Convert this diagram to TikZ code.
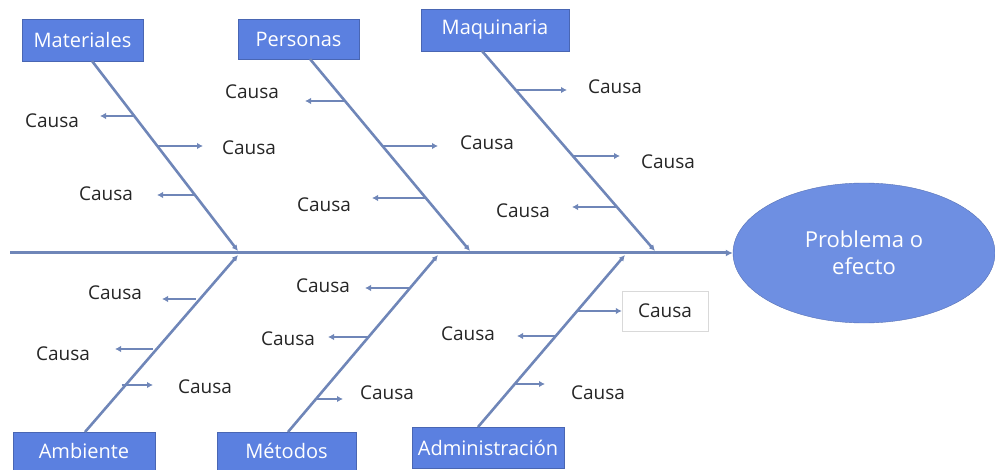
\documentclass[tikz,border=0pt]{standalone}
\usepackage{fontspec}
\setmainfont{Open Sans}
\usetikzlibrary{arrows.meta,shapes.geometric}
\definecolor{boneBlue}{HTML}{6F86B8}
\definecolor{catBlue}{HTML}{5B80E0}
\definecolor{effBlue}{HTML}{6E8FE2}

\tikzset{
  category/.style={draw=catBlue!80!black, fill=catBlue, text=white, inner sep=0pt,
    font=\fontsize{20}{24}\selectfont},
  cause/.style={text=black!85, font=\fontsize{19}{23}\selectfont},
  bone/.style={boneBlue, line width=2.6pt, -{Latex[length=6pt,width=6pt]}},
  twig/.style={boneBlue, line width=2.3pt, -{Latex[length=6pt,width=6.5pt]}}
}

\begin{document}
\begin{tikzpicture}[x=1pt,y=-1pt]
                \useasboundingbox (0,0) rectangle (995,470);

                % effect and categories
                \node[ellipse, fill=effBlue, draw=effBlue!80!black, minimum width=262, minimum height=140, inner sep=0pt,
                      text=white, align=center, font=\fontsize{22}{27}\selectfont] (eff) at (864,253) {Problema o\\efecto};
                \node[category, minimum width=121, minimum height=42] (mat) at (82.5,40) {Materiales};
                \node[category, minimum width=121, minimum height=40] (per) at (298.5,39) {Personas};
                \node[category, minimum width=148, minimum height=42] (maq) at (495,30) {Maquinaria};
                \node[category, minimum width=142, minimum height=38] (amb) at (84,451) {Ambiente};
                \node[category, minimum width=139, minimum height=38] (met) at (286.5,451) {Métodos};
                \node[category, minimum width=152, minimum height=41] (adm) at (488,447.5) {Administración};

                % spine
                \coordinate (spL) at (10,253);
                \draw[boneBlue, line width=3pt, -{Latex[length=7pt,width=7pt]}] (spL) -- (eff.west);

                % bones
                \coordinate (matT) at (92,61);   \coordinate (matB) at (238,251);
                \coordinate (perT) at (310,59);  \coordinate (perB) at (470,251);
                \coordinate (maqT) at (482,51);  \coordinate (maqB) at (655,251);
                \coordinate (ambT) at (85,432);  \coordinate (ambB) at (238,255);
                \coordinate (metT) at (288,432); \coordinate (metB) at (438,255);
                \coordinate (admT) at (478,427); \coordinate (admB) at (625,255);
                \draw[bone] (matT) -- (matB);
                \draw[bone] (perT) -- (perB);
                \draw[bone] (maqT) -- (maqB);
                \draw[bone] (ambT) -- (ambB);
                \draw[bone] (metT) -- (metB);
                \draw[bone] (admT) -- (admB);

                % causes - Materiales
                \node[cause] (m1) at (52,121) {Causa};
                \node[cause] (m2) at (249,148) {Causa};
                \node[cause] (m3) at (106,194) {Causa};
                \draw[twig] (134.5,116) coordinate (m1s) -- (100,116) coordinate (m1e);
                \draw[twig] (158,146) coordinate (m2s) -- (203,146) coordinate (m2e);
                \draw[twig] (195.5,195) coordinate (m3s) -- (157,195) coordinate (m3e);

                % causes - Personas
                \node[cause] (p1) at (252,92) {Causa};
                \node[cause] (p2) at (487,143) {Causa};
                \node[cause] (p3) at (324,205) {Causa};
                \draw[twig] (345,101) coordinate (p1s) -- (305,101) coordinate (p1e);
                \draw[twig] (383,146) coordinate (p2s) -- (438,146) coordinate (p2e);
                \draw[twig] (426,198) coordinate (p3s) -- (372,198) coordinate (p3e);

                % causes - Maquinaria
                \node[cause] (q1) at (615,87) {Causa};
                \node[cause] (q2) at (668,162) {Causa};
                \node[cause] (q3) at (523,211) {Causa};
                \draw[twig] (516,90) coordinate (q1s) -- (567,90) coordinate (q1e);
                \draw[twig] (573,156) coordinate (q2s) -- (620,156) coordinate (q2e);
                \draw[twig] (617.5,207) coordinate (q3s) -- (572,207) coordinate (q3e);

                % causes - Ambiente
                \node[cause] (a1) at (115,293) {Causa};
                \node[cause] (a2) at (63,354) {Causa};
                \node[cause] (a3) at (205,387) {Causa};
                \draw[twig] (195.5,299) coordinate (a1s) -- (162,299) coordinate (a1e);
                \draw[twig] (152.5,349) coordinate (a2s) -- (115,349) coordinate (a2e);
                \draw[twig] (121.5,385) coordinate (a3s) -- (153,385) coordinate (a3e);

                % causes - Metodos
                \node[cause] (t1) at (323,286) {Causa};
                \node[cause] (t2) at (288,339) {Causa};
                \node[cause] (t3) at (387,393) {Causa};
                \draw[twig] (409,288) coordinate (t1s) -- (365,288) coordinate (t1e);
                \draw[twig] (367.5,337) coordinate (t2s) -- (328,337) coordinate (t2e);
                \draw[twig] (314.5,399) coordinate (t3s) -- (343,399) coordinate (t3e);

                % causes - Administracion
                \node[cause, draw=black!15, minimum width=86, minimum height=40] (d1) at (665,311) {Causa};
                \node[cause] (d2) at (468,334) {Causa};
                \node[cause] (d3) at (598,393) {Causa};
                \draw[twig] (578,311) coordinate (d1s) -- (d1.west);
                \draw[twig] (556,336) coordinate (d2s) -- (517,336) coordinate (d2e);
                \draw[twig] (515,384) coordinate (d3s) -- (545,384) coordinate (d3e);
            \end{tikzpicture}
\end{document}
